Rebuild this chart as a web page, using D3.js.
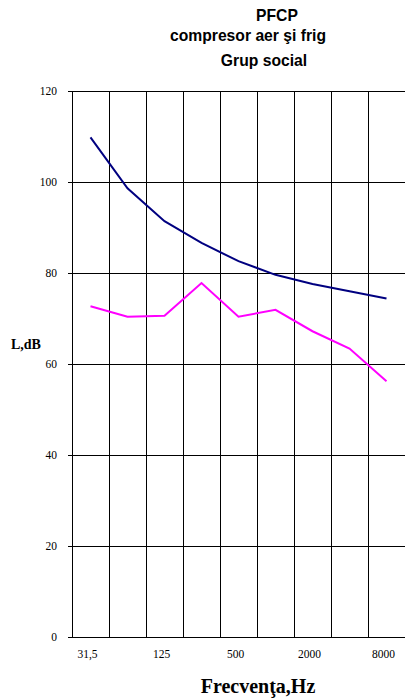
<!DOCTYPE html>
<html>
<head>
<meta charset="utf-8">
<script src="https://d3js.org/d3.v7.min.js"></script>
<style>
  body{
    margin:0;
    background-color:#fff;
  }
  .title text{
    font-family: 'Liberation Sans', Arial, sans-serif;
    font-weight: bold;
    font-size: 15.7px;
    fill:#000;
  }
  .tick-label{
    font-family: 'Liberation Serif', 'Times New Roman', serif;
    font-size: 11.5px;
    fill:#000;
  }
  .axis-title{
    font-family: 'Liberation Serif', 'Times New Roman', serif;
    font-weight: bold;
    fill:#000;
  }
  .grid line{
    stroke:#000;
    stroke-width:1;
    shape-rendering: crispEdges;
  }
</style>
</head>
<body>
<div id="chart"></div>
<script>
  var frequencies = ["31,5", "63", "125", "250", "500", "1000", "2000", "4000", "8000"];
  var shownLabels = ["31,5", "125", "500", "2000", "8000"];
  var yTicks = [0, 20, 40, 60, 80, 100, 120];

  // niveluri masurate
  var levelsUpper = [109.8, 98.6, 91.4, 86.6, 82.6, 79.6, 77.6, 76.0, 74.4];
  var levelsLower = [72.7, 70.4, 70.6, 77.8, 70.4, 71.9, 67.2, 63.4, 56.2];

  var width = 406, height = 698;
  var margin = {top:91, right:1, bottom:61, left:72};

  var svg = d3.select("#chart").append("svg")
    .attr("width", width)
    .attr("height", height);

  var x = d3.scaleBand().domain(frequencies).range([margin.left, width - margin.right]);
  var y = d3.scaleLinear().domain([0, 120]).range([height - margin.bottom, margin.top]);

  var grid = svg.append("g").attr("class", "grid");

  // linii orizontale + tick-uri stanga
  grid.selectAll(".hline").data(yTicks).enter()
    .append("line")
    .attr("class", "hline")
    .attr("x1", margin.left - 4)
    .attr("x2", width - margin.right)
    .attr("y1", function(d){ return Math.round(y(d)) + 0.5; })
    .attr("y2", function(d){ return Math.round(y(d)) + 0.5; });

  // linii verticale la marginea fiecarei categorii
  grid.selectAll(".vline").data(frequencies).enter()
    .append("line")
    .attr("class", "vline")
    .attr("x1", function(d){ return Math.round(x(d)) + 0.5; })
    .attr("x2", function(d){ return Math.round(x(d)) + 0.5; })
    .attr("y1", y(120))
    .attr("y2", y(0));

  svg.selectAll(".ylab").data(yTicks).enter()
    .append("text")
    .attr("class", "tick-label")
    .attr("x", margin.left - 15)
    .attr("y", function(d){ return y(d); })
    .attr("dy", "0.35em")
    .attr("text-anchor", "end")
    .text(function(d){ return d; });

  svg.selectAll(".xlab").data(shownLabels).enter()
    .append("text")
    .attr("class", "tick-label")
    .attr("x", function(d){ return x(d) + x.bandwidth() / 2 - 3; })
    .attr("y", height - margin.bottom + 21)
    .attr("text-anchor", "middle")
    .text(function(d){ return d; });

  var line = d3.line()
    .x(function(d, i){ return x(frequencies[i]) + x.bandwidth() / 2; })
    .y(function(d){ return y(d); });

  svg.append("path")
    .datum(levelsUpper)
    .attr("fill", "none")
    .attr("stroke", "#000080")
    .attr("stroke-width", 2)
    .attr("d", line);

  svg.append("path")
    .datum(levelsLower)
    .attr("fill", "none")
    .attr("stroke", "#ff00ff")
    .attr("stroke-width", 2)
    .attr("d", line);

  var title = svg.append("g").attr("class", "title");
  title.append("text").attr("x", 277).attr("y", 21).attr("text-anchor", "middle").text("PFCP");
  title.append("text").attr("x", 248).attr("y", 41).attr("text-anchor", "middle").text("compresor aer şi frig");
  title.append("text").attr("x", 264).attr("y", 66).attr("text-anchor", "middle").text("Grup social");

  svg.append("text")
    .attr("class", "axis-title")
    .attr("x", 258)
    .attr("y", 693)
    .attr("text-anchor", "middle")
    .style("font-size", "20px")
    .text("Frecvenţa,Hz");

  svg.append("text")
    .attr("class", "axis-title")
    .attr("x", 11)
    .attr("y", 349)
    .style("font-size", "14px")
    .text("L,dB");
</script>
</body>
</html>
